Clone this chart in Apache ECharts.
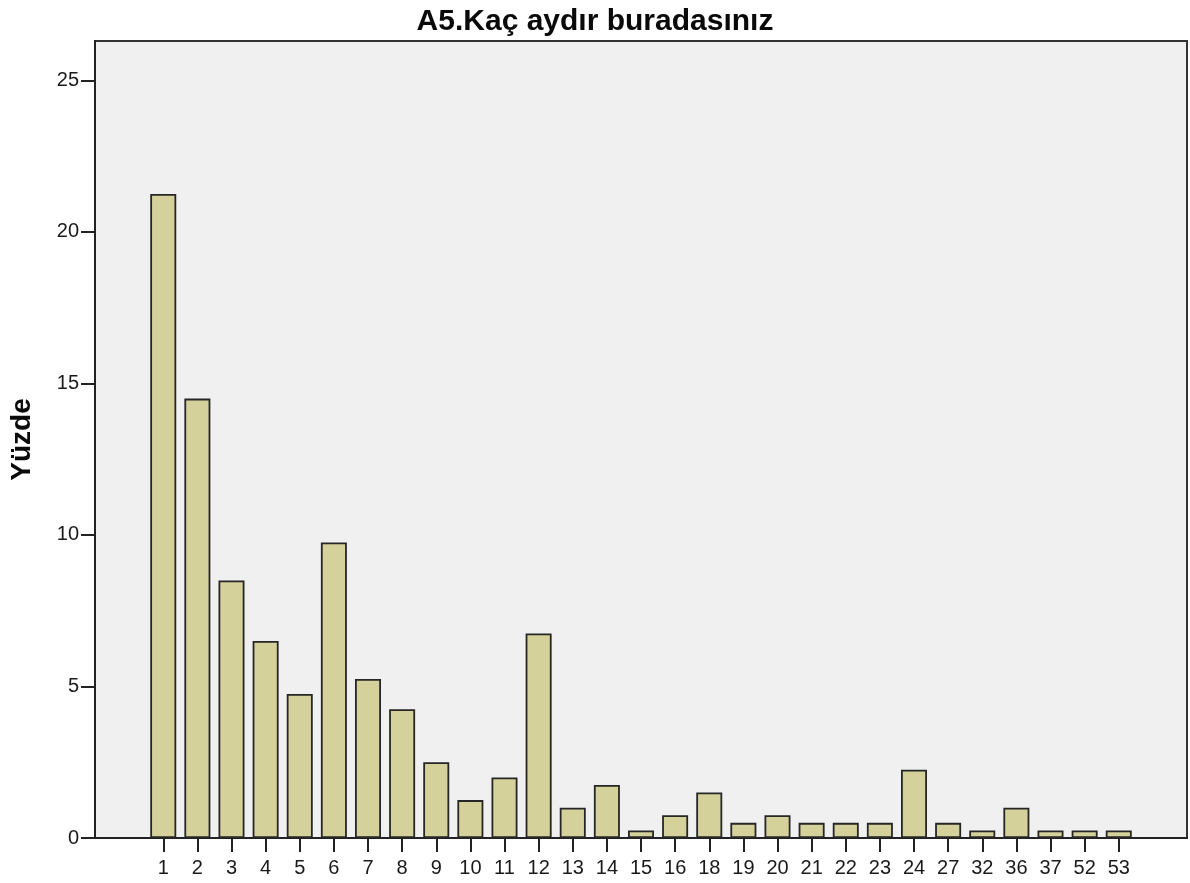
<!DOCTYPE html>
<html>
<head>
<meta charset="utf-8">
<script src="https://cdn.jsdelivr.net/npm/echarts@6/dist/echarts.min.js"></script>
<style>
html,body{margin:0;padding:0;background:#fff;}
#chart{width:1190px;height:883px;}
</style>
</head>
<body>
<div id="chart"></div>
<script>
const titleText = 'A5.Kaç aydır buradasınız';
const yAxisName = 'Yüzde';
const categories = ['1','2','3','4','5','6','7','8','9','10','11','12','13','14','15','16','18','19','20','21','22','23','24','27','32','36','37','52','53'];
const values = [21.25,14.5,8.5,6.5,4.75,9.75,5.25,4.25,2.5,1.25,2.0,6.75,1.0,1.75,0.25,0.75,1.5,0.5,0.75,0.5,0.5,0.5,2.25,0.5,0.25,1.0,0.25,0.25,0.25];
const yTicks = [0,5,10,15,20,25];

const pad = 2;
const blanks = Array(pad).fill('');
const axisCats = blanks.concat(categories, blanks);
const seriesData = blanks.map(() => '-').concat(values, blanks.map(() => '-'));
const isReal = (i) => i >= pad && i < pad + categories.length;

const chart = echarts.init(document.getElementById('chart'));
const font = 'Liberation Sans, Arial, sans-serif';
chart.setOption({
  animation: false,
  backgroundColor: '#ffffff',
  title: {
    text: titleText,
    left: 'center',
    top: 2,
    textStyle: {fontFamily: font, fontSize: 30, fontWeight: 'bold', color: '#0a0a0a'}
  },
  grid: {
    left: 95, right: 3, top: 41, bottom: 45,
    containLabel: false,
    outerBoundsMode: 'none',
    show: true, backgroundColor: '#f0f0f0', borderColor: '#333', borderWidth: 2
  },
  xAxis: {
    type: 'category',
    data: axisCats,
    boundaryGap: false,
    axisLine: {show: true, lineStyle: {color: '#222', width: 2}},
    axisTick: {show: true, length: 14, interval: (i) => isReal(i), lineStyle: {color: '#222', width: 2}},
    axisLabel: {interval: (i) => isReal(i), margin: 20, fontFamily: font, fontSize: 20, color: '#1a1a1a'},
    splitLine: {show: false}
  },
  yAxis: {
    type: 'value',
    min: 0, max: 26.3,
    name: yAxisName,
    nameLocation: 'middle',
    nameRotate: 90,
    nameGap: 59,
    nameTextStyle: {fontFamily: font, fontSize: 28, fontWeight: 'bold', color: '#0a0a0a'},
    axisLine: {show: true, lineStyle: {color: '#222', width: 2}},
    axisTick: {show: true, length: 14, customValues: yTicks, lineStyle: {color: '#222', width: 2}},
    axisLabel: {customValues: yTicks, margin: 16, fontFamily: font, fontSize: 20, color: '#1a1a1a'},
    splitLine: {show: false}
  },
  series: [{
    type: 'bar',
    data: seriesData,
    barWidth: 26,
    itemStyle: {color: '#d5d19a', borderColor: '#262626', borderWidth: 1.8}
  }]
});
</script>
</body>
</html>
